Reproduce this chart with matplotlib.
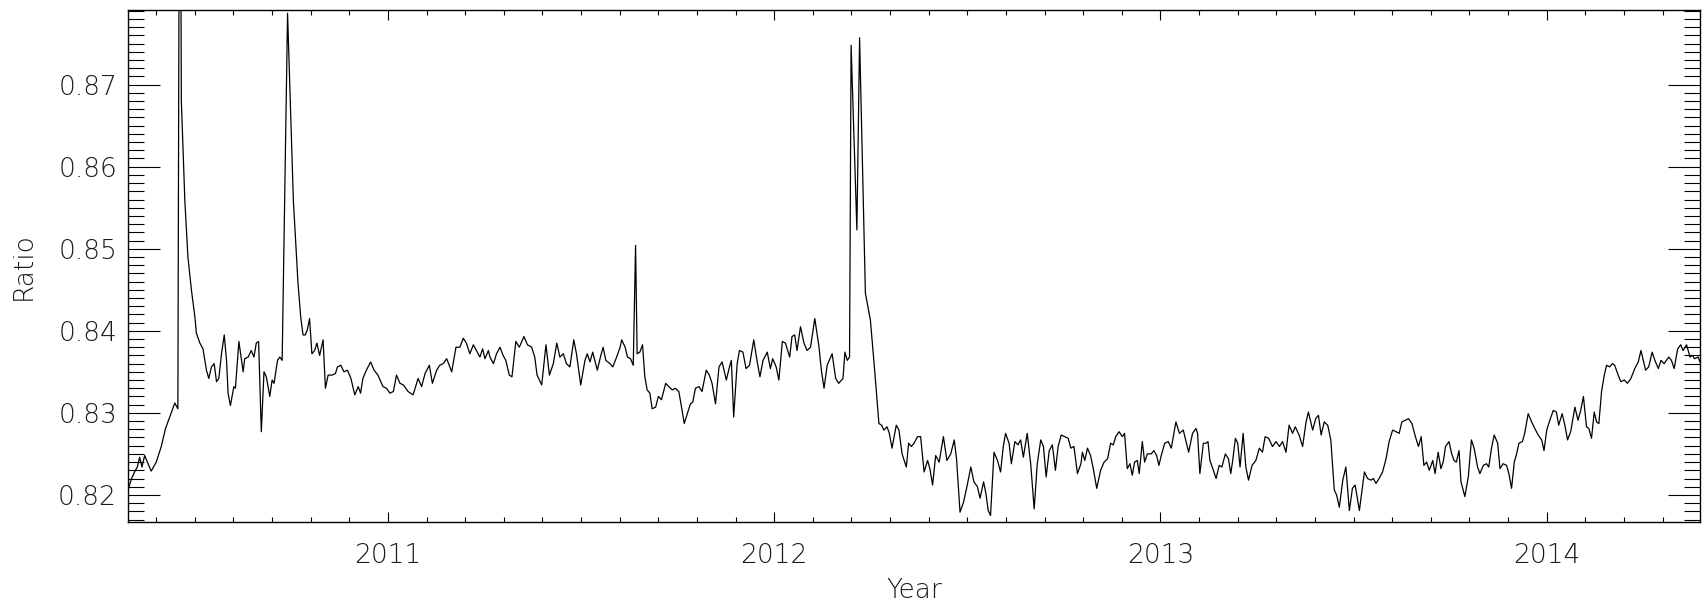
import matplotlib
matplotlib.use("Agg")
import matplotlib.pyplot as plt
from matplotlib.ticker import MultipleLocator, FormatStrFormatter

# ratio time series (decimal year, ratio)
years = [
    2010.327, 2010.336, 2010.344, 2010.351, 2010.357, 2010.363, 2010.370, 2010.377, 2010.387, 2010.400,
    2010.413, 2010.424, 2010.435, 2010.448, 2010.456, 2010.461, 2010.465, 2010.474, 2010.482, 2010.491,
    2010.500, 2010.504, 2010.513, 2010.521, 2010.530, 2010.536, 2010.543, 2010.550, 2010.556, 2010.562,
    2010.569, 2010.576, 2010.582, 2010.586, 2010.592, 2010.601, 2010.605, 2010.614, 2010.625, 2010.629,
    2010.638, 2010.646, 2010.653, 2010.659, 2010.665, 2010.672, 2010.679, 2010.685, 2010.694, 2010.700,
    2010.705, 2010.714, 2010.720, 2010.726, 2010.740, 2010.755, 2010.767, 2010.774, 2010.780, 2010.786,
    2010.791, 2010.797, 2010.803, 2010.810, 2010.816, 2010.823, 2010.832, 2010.838, 2010.845, 2010.855,
    2010.864, 2010.869, 2010.878, 2010.886, 2010.895, 2010.904, 2010.914, 2010.923, 2010.929, 2010.935,
    2010.944, 2010.955, 2010.964, 2010.974, 2010.987, 2010.996,
    2011.005, 2011.014, 2011.022, 2011.031, 2011.040, 2011.052, 2011.065, 2011.078, 2011.087, 2011.096,
    2011.107, 2011.115, 2011.126, 2011.134, 2011.143, 2011.152, 2011.165, 2011.176, 2011.186, 2011.195,
    2011.203, 2011.212, 2011.221, 2011.229, 2011.238, 2011.245, 2011.251, 2011.260, 2011.264, 2011.273,
    2011.281, 2011.290, 2011.298, 2011.305, 2011.314, 2011.321, 2011.331, 2011.340, 2011.352, 2011.361,
    2011.372, 2011.380, 2011.386, 2011.398, 2011.409, 2011.418, 2011.428, 2011.437, 2011.445, 2011.454,
    2011.462, 2011.471, 2011.481, 2011.488, 2011.499, 2011.510, 2011.516, 2011.523, 2011.530, 2011.542,
    2011.550, 2011.557, 2011.564, 2011.575, 2011.582, 2011.592, 2011.601, 2011.605, 2011.614, 2011.620,
    2011.628, 2011.635, 2011.641, 2011.645, 2011.652, 2011.659, 2011.665, 2011.671, 2011.678,
    2011.684, 2011.693, 2011.700, 2011.708, 2011.719, 2011.727, 2011.736, 2011.744, 2011.753, 2011.760,
    2011.767, 2011.775, 2011.783, 2011.789, 2011.796, 2011.805, 2011.813, 2011.824, 2011.832, 2011.839,
    2011.848, 2011.857, 2011.865, 2011.876, 2011.883, 2011.889, 2011.895, 2011.904, 2011.910, 2011.919,
    2011.927, 2011.936, 2011.947, 2011.956, 2011.963, 2011.971, 2011.982, 2011.990, 2011.996, 2012.005,
    2012.012, 2012.021, 2012.029, 2012.040, 2012.046, 2012.053, 2012.059, 2012.068, 2012.077, 2012.085,
    2012.094, 2012.105, 2012.116, 2012.122, 2012.129, 2012.137, 2012.150, 2012.159, 2012.167, 2012.178,
    2012.183, 2012.189, 2012.195, 2012.199, 2012.214, 2012.221, 2012.236, 2012.249, 2012.260, 2012.271,
    2012.278, 2012.284, 2012.292, 2012.298, 2012.305, 2012.316, 2012.323, 2012.331, 2012.342, 2012.348,
    2012.355,
    2012.362, 2012.371, 2012.379, 2012.388, 2012.397, 2012.403, 2012.410, 2012.418, 2012.427, 2012.438,
    2012.447, 2012.457, 2012.466, 2012.472, 2012.481, 2012.490, 2012.498, 2012.509, 2012.517, 2012.526,
    2012.533, 2012.542, 2012.548, 2012.554, 2012.560, 2012.569, 2012.578, 2012.586, 2012.593, 2012.599,
    2012.608, 2012.614, 2012.623, 2012.631, 2012.638, 2012.645, 2012.655, 2012.664, 2012.673, 2012.681,
    2012.690, 2012.697, 2012.704, 2012.712, 2012.720, 2012.728, 2012.735, 2012.743, 2012.752, 2012.761,
    2012.768, 2012.776, 2012.785, 2012.794, 2012.798, 2012.804, 2012.811, 2012.819, 2012.826, 2012.835,
    2012.845, 2012.854, 2012.863, 2012.871, 2012.878, 2012.884, 2012.893, 2012.901, 2012.907, 2012.914,
    2012.921, 2012.927, 2012.933, 2012.940, 2012.945, 2012.953, 2012.959, 2012.966, 2012.976, 2012.983,
    2012.990, 2012.996, 2013.002, 2013.011, 2013.020, 2013.028,
    2013.040, 2013.049, 2013.059, 2013.073, 2013.083, 2013.092, 2013.096, 2013.102, 2013.111, 2013.118,
    2013.123, 2013.128, 2013.137, 2013.144, 2013.152, 2013.159, 2013.168, 2013.176, 2013.182, 2013.187,
    2013.194, 2013.200, 2013.206, 2013.214, 2013.221, 2013.228, 2013.237, 2013.247, 2013.256, 2013.264,
    2013.271, 2013.280, 2013.290, 2013.299, 2013.308, 2013.316, 2013.325, 2013.333, 2013.342, 2013.349,
    2013.359, 2013.368, 2013.377, 2013.383, 2013.394, 2013.402, 2013.409, 2013.416, 2013.424, 2013.433,
    2013.441, 2013.450, 2013.456, 2013.463, 2013.472, 2013.480, 2013.489, 2013.497, 2013.504, 2013.515,
    2013.522, 2013.528, 2013.536, 2013.545, 2013.551, 2013.558, 2013.566, 2013.575, 2013.584, 2013.592,
    2013.601, 2013.610, 2013.618, 2013.625, 2013.634, 2013.642, 2013.651, 2013.660, 2013.668, 2013.675,
    2013.682, 2013.689, 2013.696, 2013.705, 2013.711,
    2013.719, 2013.726, 2013.732, 2013.738, 2013.747, 2013.754, 2013.760, 2013.766, 2013.773, 2013.778,
    2013.788, 2013.797, 2013.805, 2013.812, 2013.821, 2013.827, 2013.836, 2013.844, 2013.850, 2013.857,
    2013.864, 2013.873, 2013.879, 2013.887, 2013.896, 2013.902, 2013.909, 2013.916, 2013.922, 2013.928,
    2013.937, 2013.943, 2013.952, 2013.961, 2013.969, 2013.978, 2013.987, 2013.993, 2014.000, 2014.008,
    2014.017, 2014.025, 2014.031, 2014.040, 2014.047, 2014.054, 2014.062, 2014.073, 2014.081, 2014.088,
    2014.095, 2014.103, 2014.109, 2014.116, 2014.123, 2014.129, 2014.135, 2014.142, 2014.149, 2014.155,
    2014.163, 2014.170, 2014.176, 2014.185, 2014.192, 2014.201, 2014.209, 2014.218, 2014.228, 2014.237,
    2014.244, 2014.250, 2014.256, 2014.264, 2014.273, 2014.280, 2014.289, 2014.296, 2014.304, 2014.310,
    2014.316, 2014.323, 2014.330, 2014.339, 2014.347, 2014.353, 2014.362, 2014.371, 2014.377, 2014.383,
    2014.392, 2014.397,
]

ratio = [
    0.8206, 0.8220, 0.8228, 0.8234, 0.8246, 0.8234, 0.8248, 0.8240, 0.8229, 0.8240,
    0.8259, 0.8281, 0.8295, 0.8312, 0.8305, 0.9200, 0.8680, 0.8559, 0.8490, 0.8450,
    0.8417, 0.8397, 0.8385, 0.8378, 0.8352, 0.8342, 0.8356, 0.8360, 0.8338, 0.8342,
    0.8372, 0.8395, 0.8364, 0.8324, 0.8309, 0.8332, 0.8330, 0.8387, 0.8350, 0.8366,
    0.8368, 0.8376, 0.8368, 0.8385, 0.8387, 0.8277, 0.8350, 0.8344, 0.8320, 0.8340,
    0.8336, 0.8364, 0.8368, 0.8364, 0.8787, 0.8559, 0.8458, 0.8417, 0.8395, 0.8395,
    0.8401, 0.8415, 0.8372, 0.8376, 0.8385, 0.8370, 0.8389, 0.8330, 0.8346, 0.8346,
    0.8348, 0.8356, 0.8358, 0.8350, 0.8352, 0.8342, 0.8322, 0.8332, 0.8324, 0.8342,
    0.8352, 0.8362, 0.8352, 0.8346, 0.8332, 0.8330,
    0.8324, 0.8326, 0.8346, 0.8336, 0.8334, 0.8326, 0.8322, 0.8342, 0.8332, 0.8348,
    0.8358, 0.8336, 0.8352, 0.8358, 0.8360, 0.8366, 0.8350, 0.8380, 0.8380, 0.8391,
    0.8385, 0.8372, 0.8383, 0.8376, 0.8368, 0.8378, 0.8366, 0.8376, 0.8368, 0.8360,
    0.8372, 0.8380, 0.8370, 0.8364, 0.8346, 0.8344, 0.8387, 0.8380, 0.8393, 0.8383,
    0.8380, 0.8368, 0.8346, 0.8334, 0.8383, 0.8346, 0.8360, 0.8385, 0.8368, 0.8372,
    0.8360, 0.8356, 0.8389, 0.8372, 0.8334, 0.8364, 0.8372, 0.8362, 0.8374, 0.8352,
    0.8368, 0.8380, 0.8364, 0.8360, 0.8356, 0.8368, 0.8380, 0.8389, 0.8380, 0.8368,
    0.8366, 0.8358, 0.8504, 0.8372, 0.8374, 0.8383, 0.8344, 0.8328, 0.8324,
    0.8305, 0.8307, 0.8320, 0.8316, 0.8336, 0.8332, 0.8328, 0.8330, 0.8326, 0.8307,
    0.8287, 0.8299, 0.8311, 0.8313, 0.8330, 0.8332, 0.8326, 0.8352, 0.8346, 0.8336,
    0.8311, 0.8356, 0.8362, 0.8340, 0.8354, 0.8364, 0.8295, 0.8360, 0.8376, 0.8374,
    0.8354, 0.8358, 0.8389, 0.8362, 0.8344, 0.8364, 0.8374, 0.8354, 0.8366, 0.8356,
    0.8340, 0.8387, 0.8385, 0.8368, 0.8393, 0.8395, 0.8376, 0.8405, 0.8385, 0.8376,
    0.8380, 0.8415, 0.8380, 0.8352, 0.8330, 0.8358, 0.8372, 0.8342, 0.8336, 0.8342,
    0.8374, 0.8364, 0.8368, 0.8748, 0.8523, 0.8757, 0.8446, 0.8413, 0.8352, 0.8287,
    0.8285, 0.8279, 0.8283, 0.8275, 0.8257, 0.8285, 0.8279, 0.8250, 0.8234, 0.8263,
    0.8259,
    0.8263, 0.8271, 0.8271, 0.8228, 0.8242, 0.8232, 0.8212, 0.8248, 0.8240, 0.8271,
    0.8242, 0.8250, 0.8267, 0.8244, 0.8179, 0.8191, 0.8208, 0.8234, 0.8216, 0.8210,
    0.8196, 0.8216, 0.8202, 0.8181, 0.8175, 0.8252, 0.8242, 0.8228, 0.8259, 0.8275,
    0.8263, 0.8238, 0.8265, 0.8261, 0.8267, 0.8246, 0.8275, 0.8238, 0.8183, 0.8238,
    0.8267, 0.8259, 0.8222, 0.8254, 0.8261, 0.8230, 0.8259, 0.8273, 0.8271, 0.8269,
    0.8257, 0.8259, 0.8226, 0.8238, 0.8252, 0.8242, 0.8257, 0.8248, 0.8232, 0.8208,
    0.8230, 0.8240, 0.8244, 0.8263, 0.8261, 0.8271, 0.8277, 0.8271, 0.8275, 0.8232,
    0.8238, 0.8224, 0.8240, 0.8242, 0.8226, 0.8265, 0.8240, 0.8250, 0.8250, 0.8254,
    0.8248, 0.8236, 0.8248, 0.8263, 0.8265, 0.8257,
    0.8289, 0.8275, 0.8279, 0.8252, 0.8275, 0.8281, 0.8275, 0.8226, 0.8263, 0.8263,
    0.8265, 0.8242, 0.8230, 0.8220, 0.8236, 0.8234, 0.8250, 0.8244, 0.8226, 0.8242,
    0.8269, 0.8263, 0.8234, 0.8275, 0.8234, 0.8218, 0.8236, 0.8242, 0.8257, 0.8252,
    0.8271, 0.8269, 0.8259, 0.8265, 0.8259, 0.8265, 0.8252, 0.8285, 0.8275, 0.8283,
    0.8273, 0.8259, 0.8289, 0.8301, 0.8279, 0.8293, 0.8297, 0.8273, 0.8289, 0.8285,
    0.8267, 0.8206, 0.8200, 0.8185, 0.8218, 0.8234, 0.8181, 0.8208, 0.8212, 0.8181,
    0.8206, 0.8228, 0.8220, 0.8218, 0.8220, 0.8214, 0.8220, 0.8228, 0.8244, 0.8265,
    0.8279, 0.8277, 0.8275, 0.8289, 0.8291, 0.8293, 0.8287, 0.8271, 0.8259, 0.8271,
    0.8236, 0.8240, 0.8230, 0.8242, 0.8226,
    0.8252, 0.8232, 0.8240, 0.8259, 0.8265, 0.8250, 0.8242, 0.8240, 0.8254, 0.8216,
    0.8198, 0.8222, 0.8267, 0.8257, 0.8234, 0.8226, 0.8236, 0.8238, 0.8234, 0.8257,
    0.8273, 0.8263, 0.8232, 0.8238, 0.8236, 0.8226, 0.8208, 0.8240, 0.8250, 0.8263,
    0.8265, 0.8275, 0.8299, 0.8289, 0.8281, 0.8273, 0.8267, 0.8254, 0.8279, 0.8291,
    0.8303, 0.8301, 0.8285, 0.8299, 0.8285, 0.8267, 0.8277, 0.8307, 0.8291, 0.8303,
    0.8320, 0.8283, 0.8281, 0.8269, 0.8301, 0.8289, 0.8287, 0.8326, 0.8346, 0.8358,
    0.8356, 0.8360, 0.8358, 0.8346, 0.8338, 0.8340, 0.8336, 0.8342, 0.8354, 0.8362,
    0.8376, 0.8364, 0.8352, 0.8356, 0.8374, 0.8364, 0.8354, 0.8364, 0.8360, 0.8364,
    0.8368, 0.8364, 0.8354, 0.8378, 0.8383, 0.8376, 0.8383, 0.8368, 0.8370, 0.8366,
    0.8368, 0.8362,
]

x_limits = (2010.327, 2014.397)
y_limits = (0.8167, 0.8791)
year_ticks = [2011, 2012, 2013, 2014]
ratio_ticks = [0.82, 0.83, 0.84, 0.85, 0.86, 0.87]

plt.rcParams['font.family'] = ['DejaVu Sans']
plt.rcParams['font.weight'] = 200
plt.rcParams['axes.labelweight'] = 200
fig = plt.figure(figsize=(17.05, 6.05), dpi=100)
ax = fig.add_axes([0.0751, 0.1372, 0.9220, 0.8463])

ax.plot(years, ratio, color='black', linewidth=0.9)

ax.set_xlim(*x_limits)
ax.set_ylim(*y_limits)
ax.set_xticks(year_ticks)
ax.set_yticks(ratio_ticks)
ax.xaxis.set_minor_locator(MultipleLocator(0.1))
ax.yaxis.set_minor_locator(MultipleLocator(0.001))
ax.yaxis.set_major_formatter(FormatStrFormatter('%.2f'))

ax.tick_params(axis='x', which='major', direction='in', length=7, width=0.8,
               top=True, bottom=True, pad=15, labelsize=19, labelcolor='#1a1a1a')
ax.tick_params(axis='x', which='minor', direction='in', length=3.5, width=0.8,
               top=True, bottom=True)
ax.tick_params(axis='y', which='major', direction='in', length=23, width=0.8,
               left=True, right=True, pad=8, labelsize=19, labelcolor='#1a1a1a')
ax.tick_params(axis='y', which='minor', direction='in', length=11.5, width=0.8,
               left=True, right=True)

for sp in ax.spines.values():
    sp.set_linewidth(1.0)

ax.set_xlabel('Year', fontsize=19, color='#1a1a1a', labelpad=7)
ax.set_ylabel('Ratio', fontsize=19, color='#1a1a1a', labelpad=16)

fig.savefig('out.png', dpi=100)
